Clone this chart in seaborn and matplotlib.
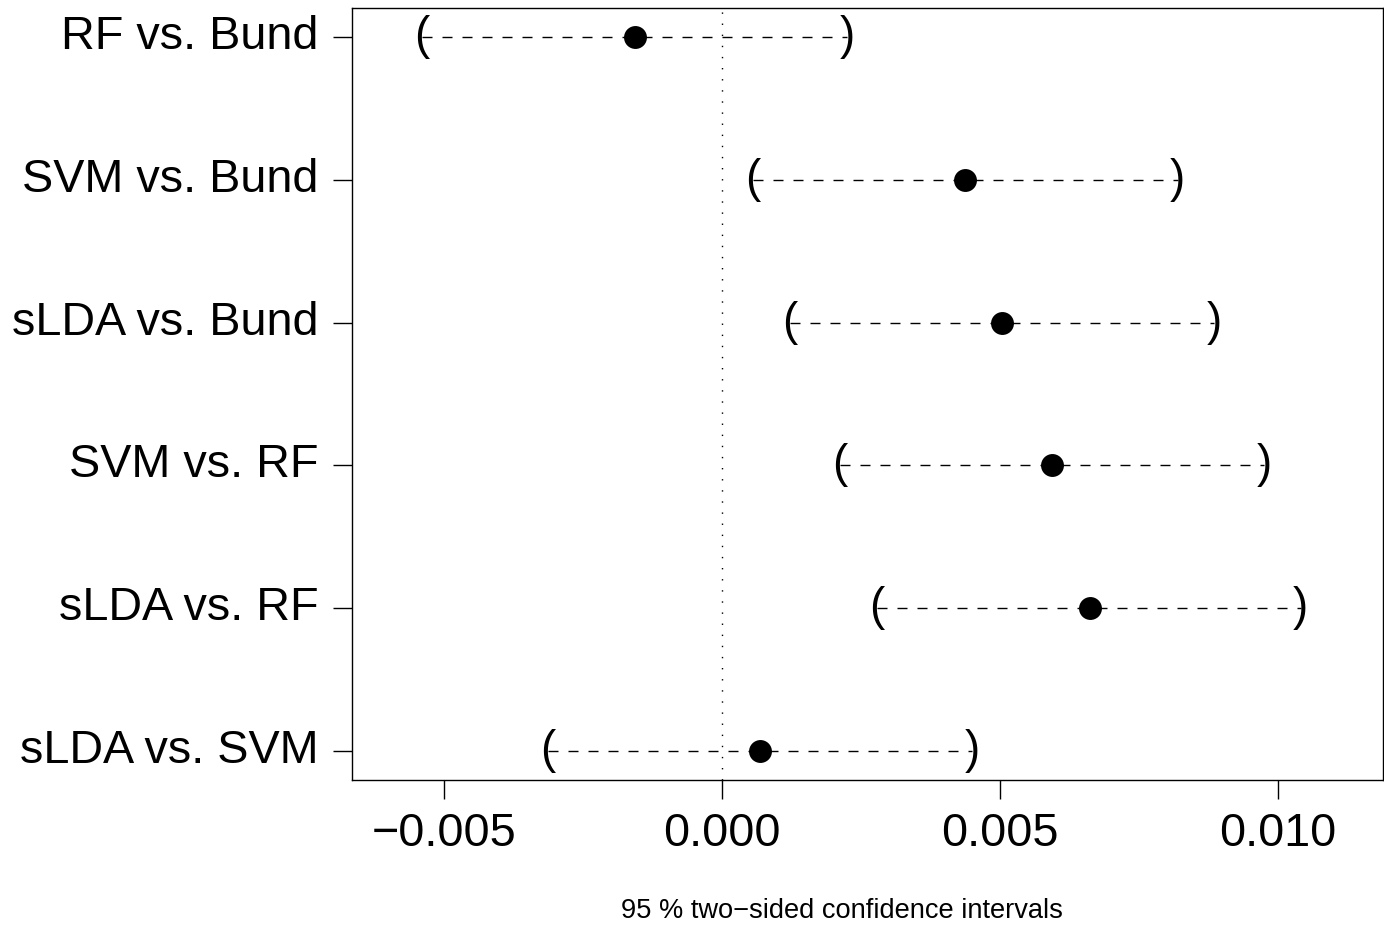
import matplotlib
matplotlib.use("Agg")
import matplotlib.pyplot as plt
import matplotlib.transforms as mtransforms
import seaborn as sns
import pandas as pd

comparisons = ["RF vs. Bund", "SVM vs. Bund", "sLDA vs. Bund",
               "SVM vs. RF", "sLDA vs. RF", "sLDA vs. SVM"]
estimates = [-0.00157, 0.00437, 0.00504, 0.00594, 0.00662, 0.00068]
lower = [-0.00540, 0.00056, 0.00122, 0.00212, 0.00279, -0.00313]
upper = [0.00225, 0.00820, 0.00885, 0.00975, 0.01041, 0.00450]
xticks = [-0.005, 0.000, 0.005, 0.010]
xtick_labels = ["\u22120.005", "0.000", "0.005", "0.010"]
xlabel = "95 % two\u2212sided confidence intervals"

sns.set_theme(style="white")
plt.rcParams["font.family"] = ["Liberation Sans", "DejaVu Sans"]
plt.rcParams["text.color"] = "black"
plt.rcParams["axes.labelcolor"] = "black"
plt.rcParams["xtick.color"] = "black"
plt.rcParams["ytick.color"] = "black"

n = len(comparisons)
ypos = list(range(n, 0, -1))
df = pd.DataFrame({"comparison": comparisons, "estimate": estimates,
                   "lower": lower, "upper": upper, "y": ypos})

fig = plt.figure(figsize=(13.84, 9.30), dpi=100)
ax = fig.add_axes([352/1384, 1 - 780/930, (1383 - 352)/1384, (780 - 8)/930])

ax.axvline(0, color="black", lw=1.0, linestyle=(0, (1, 7)), zorder=1)
ax.hlines(df["y"], df["lower"], df["upper"], color="black", lw=1.0,
          linestyle=(0, (7.2, 7.2)), zorder=2)
for _, r in df.iterrows():
    ax.text(r["lower"], r["y"], "(", ha="center", va="center", fontsize=33,
            color="black", zorder=3)
    ax.text(r["upper"], r["y"], ")", ha="center", va="center", fontsize=33,
            color="black", zorder=3)
sns.scatterplot(data=df, x="estimate", y="y", ax=ax, color="black", s=16.5**2,
                edgecolor="black", linewidth=0, zorder=4, legend=False)

ax.set_xlim(-0.006655, 0.01189)
ax.set_ylim(0.8, n + 0.2)
ax.set_xticks(xticks)
ax.set_xticklabels(xtick_labels)
ax.set_yticks(ypos)
ax.set_yticklabels(comparisons)
ax.tick_params(axis="both", which="major", labelsize=33.7, length=14, width=1.0,
               color="black", labelcolor="black", direction="out",
               bottom=True, left=True)
ax.tick_params(axis="y", pad=10)
ax.tick_params(axis="x", pad=9)
shift = mtransforms.ScaledTranslation(0, 5 / 100, fig.dpi_scale_trans)
for lab in ax.get_yticklabels():
    lab.set_transform(lab.get_transform() + shift)
for s in ax.spines.values():
    s.set_visible(True)
    s.set_color("black")
    s.set_linewidth(1.0)

ax.set_xlabel(xlabel, fontsize=19.6, va="center", color="black")
ax.set_ylabel("")
ax.xaxis.set_label_coords((842 - 352) / 1031, (780 - 911) / 772)

fig.savefig("out.png", dpi=100, facecolor="white")
